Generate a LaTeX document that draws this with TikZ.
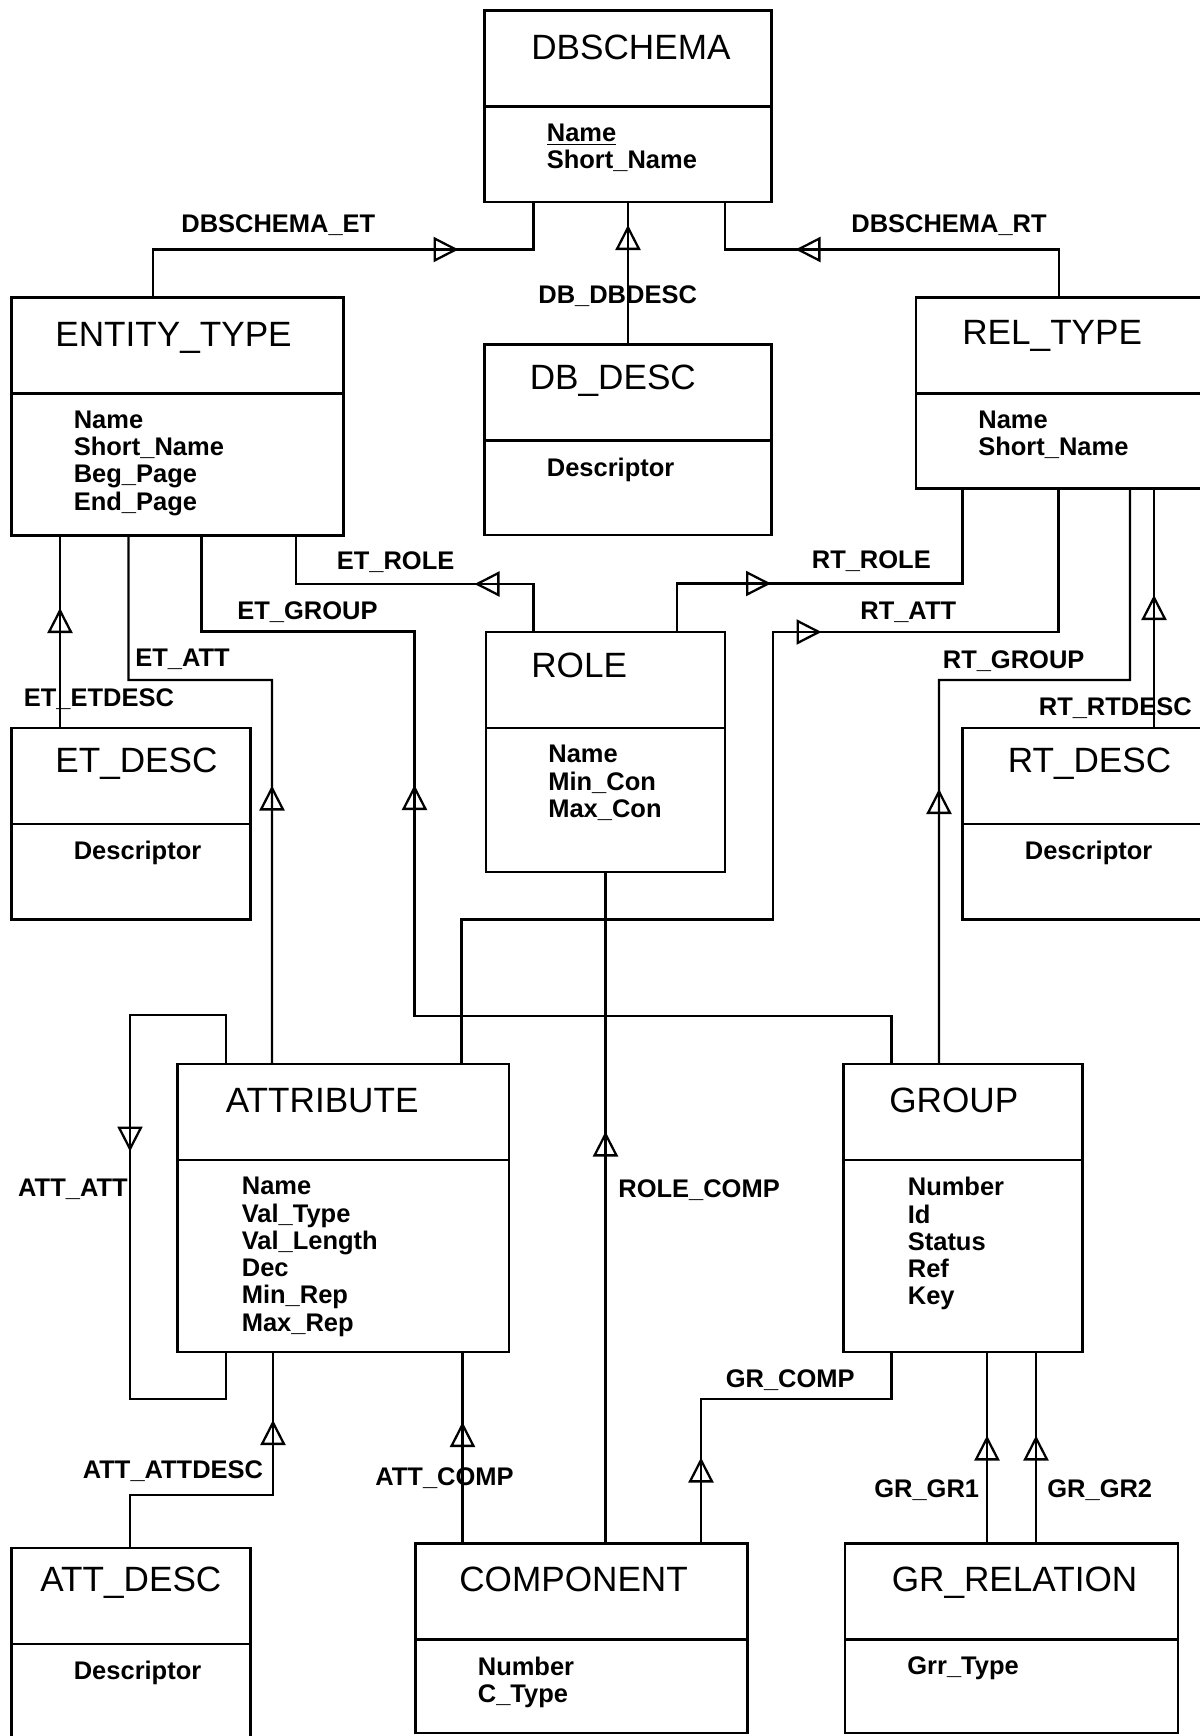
\documentclass[tikz,border=0pt]{standalone}
\usepackage{fontspec}
\setmainfont{Liberation Sans}
\usepackage{tikz}
\usetikzlibrary{positioning,arrows.meta,calc}

\begin{document}
\begin{tikzpicture}[
  ent/.style={draw,line width=1.5pt,anchor=north west,inner sep=0pt,outer sep=0pt,
              minimum width=4.78cm},
  ttl/.style={anchor=base west,inner sep=0pt,font=\fontsize{20}{24}\selectfont},
  att/.style={anchor=north west,inner sep=0pt,align=left,
              font=\fontsize{14.5}{15.5}\selectfont\bfseries},
  lbl/.style={anchor=base west,inner sep=0pt,font=\fontsize{14.5}{16}\selectfont\bfseries},
  rel/.style={line width=1.4pt},
  tri/.style={line width=1.3pt,-{Triangle[open,length=5mm,width=5mm]}},
]
\useasboundingbox (0,0) rectangle (24,-34.72);
\clip (0,0) rectangle (24,-34.72);

% record boxes
\node[ent,minimum width=5.74cm,minimum height=3.83cm] (dbschema)  at (9.69,-0.21)  {};
\node[ent,minimum width=6.64cm,minimum height=4.76cm] (entity)    at (0.23,-5.95)  {};
\node[ent,minimum width=5.74cm,minimum height=3.81cm] (dbdesc)    at (9.69,-6.89)  {};
\node[ent,minimum width=5.76cm,minimum height=3.82cm] (reltype)   at (18.32,-5.95) {};
\node[ent,minimum height=4.80cm]                      (role)      at (9.72,-12.64) {};
\node[ent,minimum height=3.83cm]                      (etdesc)    at (0.23,-14.56) {};
\node[ent,minimum width=4.80cm,minimum height=3.83cm] (rtdesc)    at (19.25,-14.56) {};
\node[ent,minimum width=6.63cm,minimum height=5.76cm] (attribute) at (3.55,-21.28) {};
\node[ent,minimum height=5.76cm]                      (group)     at (16.87,-21.28) {};
\node[ent,minimum height=3.90cm]                      (attdesc)   at (0.23,-30.96) {};
\node[ent,minimum width=6.64cm,minimum height=3.79cm] (component) at (8.31,-30.87) {};
\node[ent,minimum width=6.66cm,minimum height=3.79cm] (grrel)     at (16.90,-30.87) {};

\foreach \b in {dbschema,entity,dbdesc,reltype,role,etdesc,rtdesc,attribute,group,attdesc,component,grrel}
  \draw[line width=1.5pt] ([yshift=-1.92cm]\b.north west) -- ([yshift=-1.92cm]\b.north east);

\foreach \b/\dx/\dy/\t in {dbschema/0.93/0.97/DBSCHEMA, entity/0.87/0.98/ENTITY\_TYPE,
    dbdesc/0.90/0.90/DB\_DESC, reltype/0.92/0.93/REL\_TYPE, role/0.90/0.90/ROLE,
    etdesc/0.87/0.88/ET\_DESC, rtdesc/0.90/0.88/RT\_DESC, attribute/0.96/0.97/ATTRIBUTE,
    group/0.91/0.97/GROUP, attdesc/0.57/0.87/ATT\_DESC, component/0.87/0.96/COMPONENT,
    grrel/0.93/0.96/GR\_RELATION}
  \node[ttl] (\b-t) at ([shift={(\dx,-\dy)}]\b.north west) {\t};

\node[att] (dbschema-a)  at ([shift={(1.24,-2.26)}]dbschema.north west)  {\underline{Name}\\Short\_Name};
\node[att] (entity-a)    at ([shift={(1.24,-2.26)}]entity.north west)    {Name\\Short\_Name\\Beg\_Page\\End\_Page};
\node[att] (dbdesc-a)    at ([shift={(1.24,-2.26)}]dbdesc.north west)    {Descriptor};
\node[att] (reltype-a)   at ([shift={(1.24,-2.26)}]reltype.north west)   {Name\\Short\_Name};
\node[att] (role-a)      at ([shift={(1.24,-2.26)}]role.north west)      {Name\\Min\_Con\\Max\_Con};
\node[att] (etdesc-a)    at ([shift={(1.24,-2.26)}]etdesc.north west)    {Descriptor};
\node[att] (rtdesc-a)    at ([shift={(1.24,-2.26)}]rtdesc.north west)    {Descriptor};
\node[att] (attribute-a) at ([shift={(1.28,-2.26)}]attribute.north west) {Name\\Val\_Type\\Val\_Length\\Dec\\Min\_Rep\\Max\_Rep};
\node[att] (group-a)     at ([shift={(1.28,-2.26)}]group.north west)     {Number\\Id\\Status\\Ref\\Key};
\node[att] (attdesc-a)   at ([shift={(1.24,-2.26)}]attdesc.north west)   {Descriptor};
\node[att] (component-a) at ([shift={(1.24,-2.26)}]component.north west) {Number\\C\_Type};
\node[att] (grrel-a)     at ([shift={(1.24,-2.26)}]grrel.north west)     {Grr\_Type};

% relationships
\draw[rel] ([xshift=0.98cm]dbschema.south west) -- ++(0,-0.95) -- ++(-1.50,0) coordinate (tDBET)
  -| ([xshift=2.83cm]entity.north west);
\draw[rel] (dbdesc.north) -- ([yshift=-0.46cm]dbschema.south) coordinate (tDBDESC) -- (dbschema.south);
\draw[rel] ([xshift=-0.93cm]dbschema.south east) -- ++(0,-0.95) -- ++(1.41,0) coordinate (tDBRT)
  -| ([xshift=2.86cm]reltype.north west);
\draw[rel] ([xshift=-0.95cm]entity.south east) -- ++(0,-0.97) -- ++(3.57,0) coordinate (tETROLE)
  -| ([xshift=0.95cm]role.north west);
\draw[rel] ([xshift=0.93cm]reltype.south west) -- ++(0,-1.90) -- ++(-3.83,0) coordinate (tRTROLE)
  -| ([xshift=-0.96cm]role.north east);
\draw[rel] ([xshift=3.80cm]entity.south west) -- ++(0,-1.92) -- ++(4.26,0) -- ++(0,-3.07) coordinate (tETGRP)
  -- ++(0,-4.62) -| ([xshift=0.96cm]group.north west);
\draw[rel] ([xshift=2.34cm]entity.south west) -- ++(0,-2.89) -- ++(2.87,0) -- ++(0,-2.11) coordinate (tETATT)
  -- ([xshift=1.89cm]attribute.north west);
\draw[rel] ([xshift=0.97cm]etdesc.north west) -- ++(0,2.40) coordinate (tETDESC) -- (tETDESC |- entity.south);
\draw[rel] ([xshift=2.85cm]reltype.south west) -- ++(0,-2.87) -- ++(-4.74,0) coordinate (tRTATT)
  -- ++(-0.97,0) -- ++(0,-5.75) -| ([xshift=-0.95cm]attribute.north east);
\draw[rel] ([xshift=4.28cm]reltype.south west) -- ++(0,-3.83) -- ++(-3.82,0) -- ++(0,-2.18) coordinate (tRTGRP)
  -- ([xshift=1.91cm]group.north west);
\draw[rel] ([xshift=3.83cm]rtdesc.north west) -- ++(0,2.66) coordinate (tRTDESC) -- (tRTDESC |- reltype.south);
\draw[rel] ([xshift=0.97cm]attribute.north west) -- ++(0,0.98) -- ++(-1.92,0) -- ++(0,-2.73) coordinate (tATTATT)
  -- ++(0,-4.95) -| ([xshift=0.97cm]attribute.south west);
\draw[rel] ([xshift=2.37cm]attdesc.north west) -- ++(0,1.06) -- ++(2.86,0) -- ++(0,1.50) coordinate (tATTDESC)
  -- (tATTDESC |- attribute.south);
\draw[rel] ([xshift=0.94cm]component.north west) -- ++(0,2.43) coordinate (tATTCOMP) -- (tATTCOMP |- attribute.south);
\draw[rel] (role.south |- component.north) -- ++(0,8.24) coordinate (tROLECOMP) -- (role.south);
\draw[rel] ([xshift=-0.93cm]component.north east) -- ++(0,1.72) coordinate (tGRCOMP) -- ++(0,1.17)
  -| ([xshift=0.96cm]group.south west);
\draw[rel] ([xshift=2.84cm]grrel.north west) -- ++(0,2.16) coordinate (tGR1) -- (tGR1 |- group.south);
\draw[rel] ([xshift=3.82cm]grrel.north west) -- ++(0,2.16) coordinate (tGR2) -- (tGR2 |- group.south);

\foreach \c/\d in {tDBET/180,tDBDESC/-90,tDBRT/0,tETROLE/0,tRTROLE/180,tETGRP/-90,tETATT/-90,
    tETDESC/-90,tRTATT/180,tRTGRP/-90,tRTDESC/-90,tATTATT/90,tATTDESC/-90,tATTCOMP/-90,
    tROLECOMP/-90,tGRCOMP/-90,tGR1/-90,tGR2/-90}
  \draw[tri] ($(\c)+(\d:0.8)$) -- (\c);

% relationship names
\node[lbl] (lDBET)     at (3.62,-4.65)   {DBSCHEMA\_ET};
\node[lbl] (lDBDESC)   at (10.76,-6.07)  {DB\_DBDESC};
\node[lbl] (lDBRT)     at (17.02,-4.65)  {DBSCHEMA\_RT};
\node[lbl] (lETROLE)   at (6.73,-11.39)  {ET\_ROLE};
\node[lbl] (lRTROLE)   at (16.23,-11.37) {RT\_ROLE};
\node[lbl] (lETGRP)    at (4.74,-12.39)  {ET\_GROUP};
\node[lbl] (lRTATT)    at (17.20,-12.39) {RT\_ATT};
\node[lbl] (lETATT)    at (2.70,-13.32)  {ET\_ATT};
\node[lbl] (lRTGRP)    at (18.85,-13.37) {RT\_GROUP};
\node[lbl] (lETDESC)   at (0.47,-14.13)  {ET\_ETDESC};
\node[lbl] (lRTDESC)   at (20.77,-14.31) {RT\_RTDESC};
\node[lbl,anchor=base east] (lATTATT) at (2.56,-23.93) {ATT\_ATT};
\node[lbl] (lROLECOMP) at (12.36,-23.95) {ROLE\_COMP};
\node[lbl] (lGRCOMP)   at (14.51,-27.75) {GR\_COMP};
\node[lbl] (lATTDESC)  at (1.65,-29.57)  {ATT\_ATTDESC};
\node[lbl] (lATTCOMP)  at (7.50,-29.71)  {ATT\_COMP};
\node[lbl] (lGR1)      at (17.48,-29.95) {GR\_GR1};
\node[lbl] (lGR2)      at (20.94,-29.95) {GR\_GR2};
\end{tikzpicture}
\end{document}
